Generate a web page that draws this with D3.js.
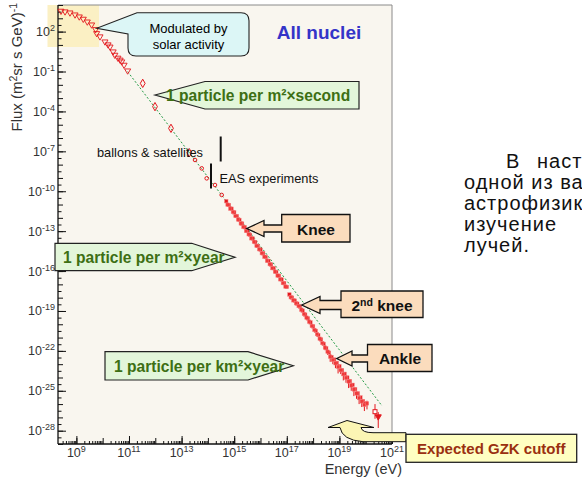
<!DOCTYPE html>
<html>
<head>
<meta charset="utf-8">
<style>
    body { margin: 0; background: #fff; }
    svg { display: block; font-family: Arial, "Liberation Sans", sans-serif; }
</style>
</head>
<body>
<svg id="chart" width="582" height="479"></svg>
<script src="https://cdn.jsdelivr.net/npm/d3@7"></script>
<script>
    // direct measurements, low energy (open triangles)
    let directE = [2.6e8, 3.7e8, 5.7e8, 8.9e8, 1.29e9, 1.83e9, 2.6e9, 3.8e9, 5.4e9, 5.9e9, 7.9e9, 1.22e10,
        1.6e10, 1.9e10, 2.5e10, 2.9e10, 3.8e10, 4.6e10, 5.3e10, 6.5e10, 8.9e10]
    let directF = [3550, 3160, 2630, 1860, 1320, 890, 550, 330, 148, 74, 42, 17.4,
        10.5, 7.2, 3.1, 1.74, 1.05, 0.75, 0.55, 0.31, 0.115]

    // balloons (open diamonds) and satellites (small open circles)
    let balloonE = [3.33e11, 9.75e11, 3.95e12, 1.96e13]
    let balloonF = [0.0129, 2.29e-4, 5.37e-6, 7.94e-8]
    let satE = [3.24e13, 5.82e13, 9.0e13, 1.86e14, 3.35e14]
    let satF = [2.24e-8, 5.25e-9, 9.33e-10, 2.95e-10, 5.25e-11]

    // air shower arrays around the knee
    let kneeE = [5.0e14, 6.3e14, 7.9e14, 1.0e15, 1.26e15, 1.58e15, 2.0e15, 2.51e15, 3.16e15, 3.98e15, 5.01e15, 6.31e15,
        7.94e15, 1.0e16, 1.26e16, 1.58e16, 2.0e16, 2.51e16, 3.16e16, 3.98e16, 5.01e16, 6.31e16, 7.94e16, 1.0e17]
    let kneeF = [1.78e-11, 9.33e-12, 4.90e-12, 2.57e-12, 1.35e-12, 7.08e-13, 3.72e-13, 1.95e-13, 1.02e-13, 5.37e-14, 2.82e-14, 1.48e-14,
        7.76e-15, 4.07e-15, 2.14e-15, 1.12e-15, 5.89e-16, 3.09e-16, 1.62e-16, 8.51e-17, 4.47e-17, 2.34e-17, 1.23e-17, 6.46e-18]
    let knee2E = [5.6e14, 7.1e14, 8.9e14, 1.12e15, 1.41e15, 1.78e15, 2.24e15, 2.82e15, 3.55e15, 4.47e15, 5.62e15, 7.08e15,
        8.91e15, 1.12e16, 1.41e16, 1.78e16, 2.24e16, 2.82e16, 3.55e16, 4.47e16, 5.62e16, 7.08e16, 8.91e16]
    let knee2F = [9.8e-12, 5.0e-12, 2.8e-12, 1.38e-12, 7.6e-13, 3.8e-13, 2.1e-13, 1.05e-13, 5.8e-14, 2.9e-14, 1.6e-14, 7.9e-15,
        4.4e-15, 2.2e-15, 1.2e-15, 6.0e-16, 3.3e-16, 1.66e-16, 9.1e-17, 4.6e-17, 2.4e-17, 1.25e-17, 6.8e-18]

    // highest energies
    let highE = [1.26e17, 1.58e17, 2.0e17, 2.51e17, 3.16e17, 3.98e17, 5.01e17, 6.31e17, 7.94e17, 1.0e18, 1.26e18, 1.58e18,
        2.0e18, 2.51e18, 3.16e18, 3.98e18, 5.01e18, 6.31e18, 7.94e18, 1.0e19, 1.26e19, 1.58e19, 2.0e19, 2.51e19,
        3.16e19, 3.98e19, 5.01e19, 6.31e19, 7.94e19, 1.0e20]
    let highF = [1.74e-18, 1.02e-18, 6.03e-19, 3.55e-19, 2.14e-19, 1.07e-19, 5.37e-20, 2.75e-20, 1.38e-20, 6.92e-21, 3.24e-21, 1.55e-21,
        7.24e-22, 3.39e-22, 1.58e-22, 7.41e-23, 3.47e-23, 2.24e-23, 1.26e-23, 7.08e-24, 3.55e-24, 1.91e-24, 1.0e-24, 5.37e-25,
        2.82e-25, 1.32e-25, 6.31e-26, 3.16e-26, 1.66e-26, 1.12e-26]
    let high2E = [1.41e17, 1.78e17, 2.24e17, 2.82e17, 3.55e17, 4.47e17, 5.62e17, 7.08e17, 8.91e17, 1.12e18, 1.41e18, 1.78e18,
        2.24e18, 2.82e18, 3.55e18, 4.47e18, 5.62e18, 7.08e18, 8.91e18, 1.12e19, 1.41e19, 1.78e19, 2.24e19, 2.82e19,
        3.55e19, 4.47e19, 5.62e19, 7.08e19, 8.91e19, 1.12e20]
    let high2F = [1.07e-18, 6.31e-19, 3.80e-19, 2.34e-19, 1.26e-19, 6.03e-20, 3.16e-20, 1.58e-20, 7.59e-21, 3.80e-21, 1.82e-21, 8.32e-22,
        3.89e-22, 1.78e-22, 8.71e-23, 3.72e-23, 2.09e-23, 1.17e-23, 6.31e-24, 3.55e-24, 1.78e-24, 9.55e-25, 5.01e-25, 2.51e-25,
        1.26e-25, 6.31e-26, 2.82e-26, 1.58e-26, 8.91e-27, 1.12e-26]
    let high2Lo = [null, null, null, null, null, null, null, null, null, null, null, null,
        null, 1.2e-22, 5.0e-23, 1.5e-23, 1.0e-23, 5.0e-24, 2.0e-24, 1.8e-24, 6.0e-25, 4.0e-25, 1.6e-25, 1.0e-25,
        4.0e-26, 2.5e-26, 1.0e-26, 6.0e-27, 3.0e-27, 4.0e-27]

    // last two points with error bars
    let lastE = [2.26e20, 3.0e20]
    let lastF = [2.69e-27, 1.15e-27]
    let lastHi = [1.0e-26, 2.5e-27]
    let lastLo = [7.9e-28, 1.6e-28]

    // reference slope (green dotted)
    let refE = [8.9e10, 4.2e20]
    let refF = [0.098, 7.2e-27]

    let xLabelExp = [9, 11, 13, 15, 17, 19, 21]
    let yLabelExp = [2, -1, -4, -7, -10, -13, -16, -19, -22, -25, -28]

    let textLines = [["В", "настоящее"], ["одной из важнейших"], ["астрофизики"], ["изучение"], ["лучей."]]

    let svg = d3.select("#chart")
    let pLeft = 58, pRight = 392, pTop = 5, pBottom = 444
    let red = "#e3161c"

    let x = d3.scaleLog().domain([2e8, 1e21]).range([pLeft, pRight])
    let y = d3.scaleLog().domain([1e-29, 1e4]).range([pBottom, pTop])

    // plot background and highlight
    svg.append("rect").attr("x", pLeft).attr("y", pTop).attr("width", pRight - pLeft).attr("height", pBottom - pTop)
        .attr("fill", "#f9f6ef")
    svg.append("rect").attr("x", 47.5).attr("y", 5).attr("width", 51.5).attr("height", 42)
        .attr("fill", "#fbf0c4")

    // frame
    svg.append("path").attr("d", `M${pLeft},${pTop}H${pRight}V${pBottom}`)
        .attr("fill", "none").attr("stroke", "#8a8a8a").attr("stroke-width", 1)

    // ticks
    let xMinor = [], xDecade = []
    for (let e = 8; e <= 21; e++) {
        for (let m = 1; m < 10; m++) {
            let v = m * Math.pow(10, e)
            if (v <= 2e8 || v > 1e21) continue
            if (m > 1) xMinor.push(v)
            else xDecade.push(v)
        }
    }
    let yHalf = [], yDecade = []
    for (let k = -58; k <= 8; k++) {
        let v = Math.pow(10, k / 2)
        if (k % 2) yHalf.push(v)
        else yDecade.push(v)
    }

    function xTicks(vals, len) {
        svg.append("g").attr("transform", `translate(0,${pBottom})`)
            .call(d3.axisBottom(x).tickValues(vals).tickSizeInner(-len).tickSizeOuter(0).tickFormat(""))
            .call(g => g.select(".domain").remove())
            .selectAll("line").attr("stroke", "#111")
    }
    function yTicks(vals, len) {
        svg.append("g").attr("transform", `translate(${pLeft},0)`)
            .call(d3.axisLeft(y).tickValues(vals).tickSizeInner(-len).tickSizeOuter(0).tickFormat(""))
            .call(g => g.select(".domain").remove())
            .selectAll("line").attr("stroke", "#111")
    }
    xTicks(xMinor, 3)
    xTicks(xDecade, 6)
    xTicks(xLabelExp.map(e => Math.pow(10, e)), 8)
    yTicks(yHalf, 3.5)
    yTicks(yDecade, 5)
    yTicks(yLabelExp.map(e => Math.pow(10, e)), 8)

    svg.append("line").attr("x1", pLeft).attr("x2", pRight).attr("y1", pBottom).attr("y2", pBottom)
        .attr("stroke", "#111").attr("stroke-width", 1.3)
    svg.append("line").attr("x1", pLeft).attr("x2", pLeft).attr("y1", pTop).attr("y2", pBottom)
        .attr("stroke", "#111").attr("stroke-width", 1.3)

    // tick labels
    let xl = svg.append("g").attr("fill", "#333").attr("font-size", 12.5)
    xLabelExp.forEach(e => {
        let t = xl.append("text").attr("x", x(Math.pow(10, e))).attr("y", 457).attr("text-anchor", "middle")
        t.append("tspan").text("10")
        t.append("tspan").attr("dy", -5).attr("font-size", 9).text(e)
    })
    let yl = svg.append("g").attr("fill", "#333").attr("font-size", 12.5)
    yLabelExp.forEach(e => {
        let t = yl.append("text").attr("x", 55).attr("y", y(Math.pow(10, e)) + 4.5).attr("text-anchor", "end")
        t.append("tspan").text("10")
        t.append("tspan").attr("dy", -5).attr("font-size", 9).text(e)
    })

    // axis titles
    svg.append("text").attr("x", 402).attr("y", 474).attr("text-anchor", "end")
        .attr("font-size", 14.5).attr("fill", "#333").text("Energy (eV)")
    let yt = svg.append("text").attr("transform", "translate(22,3) rotate(-90)")
        .attr("text-anchor", "end").attr("font-size", 15).attr("fill", "#333")
    yt.append("tspan").text("Flux (m")
    yt.append("tspan").attr("dy", -5).attr("font-size", 10.5).text("2")
    yt.append("tspan").attr("dy", 5).text("sr s GeV)")
    yt.append("tspan").attr("dy", -5).attr("font-size", 10.5).text("-1")

    // reference line
    let refData = refE.map((e, i) => [e, refF[i]])
    svg.append("path").datum(refData)
        .attr("d", d3.line().x(d => x(d[0])).y(d => y(d[1])))
        .attr("fill", "none").attr("stroke", "#239a45").attr("stroke-width", 1).attr("stroke-dasharray", "2,2")

    function zip(es, fs) { return es.map((e, i) => ({ e: e, f: fs[i], i: i })) }

    // error bars
    let errs = zip(high2E, high2F).filter(d => high2Lo[d.i] != null)
    svg.append("g").selectAll("line").data(errs).join("line")
        .attr("x1", d => x(d.e)).attr("x2", d => x(d.e))
        .attr("y1", d => y(d.f * 1.6)).attr("y2", d => y(high2Lo[d.i]))
        .attr("stroke", red).attr("stroke-width", 1)
    svg.append("g").selectAll("line").data(zip(lastE, lastF)).join("line")
        .attr("x1", d => x(d.e)).attr("x2", d => x(d.e))
        .attr("y1", d => y(lastHi[d.i])).attr("y2", d => y(lastLo[d.i]))
        .attr("stroke", red).attr("stroke-width", 1)

    // markers
    let tri = d3.symbol(d3.symbolTriangle, 16)
    svg.append("g").selectAll("path").data(zip(directE, directF)).join("path")
        .attr("d", tri).attr("transform", d => `translate(${x(d.e)},${y(d.f)}) rotate(180)`)
        .attr("fill", "none").attr("stroke", red).attr("stroke-width", 0.9)
    svg.append("g").selectAll("path").data(zip(balloonE, balloonF)).join("path")
        .attr("d", d3.symbol(d3.symbolDiamond, 20)).attr("transform", d => `translate(${x(d.e)},${y(d.f)})`)
        .attr("fill", "none").attr("stroke", red).attr("stroke-width", 1)
    svg.append("g").selectAll("circle").data(zip(satE, satF)).join("circle")
        .attr("cx", d => x(d.e)).attr("cy", d => y(d.f)).attr("r", 1.8)
        .attr("fill", "none").attr("stroke", red).attr("stroke-width", 1)

    let dense = [zip(kneeE, kneeF), zip(knee2E, knee2F), zip(highE, highF), zip(high2E, high2F)]
    dense.forEach((set, k) => {
        svg.append("g").selectAll("rect").data(set).join("rect")
            .attr("x", d => x(d.e) - 1.7).attr("y", d => y(d.f) - 1.7)
            .attr("width", 3.4).attr("height", 3.4)
            .attr("fill", k % 2 ? "#f03a3a" : red).attr("stroke", "#f47a7a").attr("stroke-width", 0.5)
    })
    svg.append("rect").attr("x", x(lastE[0]) - 2).attr("y", y(lastF[0]) - 2).attr("width", 4).attr("height", 4)
        .attr("fill", "#fff").attr("stroke", red)
    svg.append("path").attr("d", tri).attr("transform", `translate(${x(lastE[1])},${y(lastF[1])}) rotate(180)`)
        .attr("fill", red).attr("stroke", red)

    // annotations
    function arrowBox(b) {
        return `M${b.tx},${b.ty}L${b.hx},${b.ty - b.hh}L${b.hx},${b.ty - b.sh}L${b.x0},${b.ty - b.sh}L${b.x0},${b.y0}` +
            `L${b.x1},${b.y0}L${b.x1},${b.y1}L${b.x0},${b.y1}L${b.x0},${b.ty + b.sh}L${b.hx},${b.ty + b.sh}L${b.hx},${b.ty + b.hh}Z`
    }
    let peach = "#fbdcbd"
    let boxes = [
        { x0: 281.7, y0: 214.5, x1: 350, y1: 242, tx: 246.7, ty: 228.5, hx: 264, hh: 8, sh: 3.5 },
        { x0: 341, y0: 291, x1: 423, y1: 317.5, tx: 301.7, ty: 305, hx: 320, hh: 8.5, sh: 4.5 },
        { x0: 367.5, y0: 344.5, x1: 432, y1: 371.5, tx: 336.7, ty: 358.5, hx: 352, hh: 7.5, sh: 3.5 }
    ]
    boxes.forEach(b => svg.append("path").attr("d", arrowBox(b))
        .attr("fill", peach).attr("stroke", "#111").attr("stroke-width", 1.3))
    let bold = svg.append("g").attr("font-weight", "bold").attr("font-size", 15.5).attr("fill", "#111")
    bold.append("text").attr("x", 316).attr("y", 234.5).attr("text-anchor", "middle").text("Knee")
    let k2 = bold.append("text").attr("x", 382).attr("y", 310.5).attr("text-anchor", "middle")
    k2.append("tspan").text("2")
    k2.append("tspan").attr("dy", -5).attr("font-size", 10.5).text("nd")
    k2.append("tspan").attr("dy", 5).text(" knee")
    bold.append("text").attr("x", 400).attr("y", 363.5).attr("text-anchor", "middle").text("Ankle")

    let green = [
        { pts: [[155, 95], [205, 81.5], [359, 81.5], [359, 109], [205, 109]], tx: 166, ty: 101, label: "1 particle per m²×second" },
        { pts: [[55, 243.3], [191.7, 243.3], [235, 257.3], [191.7, 270.7], [55, 270.7]], tx: 63, ty: 262.8, label: "1 particle per m²×year" },
        { pts: [[105, 351.7], [248, 351.7], [293.3, 365.8], [248, 380], [105, 380]], tx: 114, ty: 371.5, label: "1 particle per km²×year" }
    ]
    green.forEach(g => {
        svg.append("path").attr("d", "M" + g.pts.join("L") + "Z")
            .attr("fill", "#e3f6da").attr("stroke", "#222").attr("stroke-width", 1.2)
        svg.append("text").attr("x", g.tx).attr("y", g.ty).attr("font-weight", "bold").attr("font-size", 15.6)
            .attr("fill", "#3d6f14").text(g.label)
    })

    // solar modulation bubble
    svg.append("path")
        .attr("d", "M137,12.7L241,12.7Q249,12.7 249,20.7L249,48Q249,56 241,56L136,56Q128,56 128,48L128,34L96.7,28.3Z")
        .attr("fill", "#dcf6f6").attr("stroke", "#222").attr("stroke-width", 1.1)
    svg.append("text").attr("x", 188.5).attr("y", 33).attr("text-anchor", "middle").attr("font-size", 13).text("Modulated by")
    svg.append("text").attr("x", 188.5).attr("y", 48.5).attr("text-anchor", "middle").attr("font-size", 13).text("solar activity")

    svg.append("text").attr("x", 319).attr("y", 38.5).attr("text-anchor", "middle").attr("font-weight", "bold")
        .attr("font-size", 19).attr("fill", "#3434c8").text("All nuclei")

    // experiment ranges
    svg.append("text").attr("x", 97).attr("y", 156.5).attr("font-size", 12.8).attr("fill", "#111").text("ballons & satellites")
    svg.append("text").attr("x", 219.5).attr("y", 183).attr("font-size", 12.8).attr("fill", "#111").text("EAS experiments")
    svg.append("line").attr("x1", 220.7).attr("x2", 220.7).attr("y1", 136.5).attr("y2", 161.5).attr("stroke", "#111").attr("stroke-width", 2)
    svg.append("line").attr("x1", 211).attr("x2", 211).attr("y1", 163.5).attr("y2", 188.5).attr("stroke", "#111").attr("stroke-width", 2)

    // GZK
    svg.append("path")
        .attr("d", "M328,427.5L347,420.5L374,427.5L361,427.5Q362,432.7 373,432.7L406,432.7L406,441.7L363,441.7Q342,440 340,427.5Z")
        .attr("fill", "#fbf5b4").attr("stroke", "#111").attr("stroke-width", 1)
    svg.append("rect").attr("x", 406).attr("y", 434.3).attr("width", 170.7).attr("height", 28)
        .attr("fill", "#ffffc2").attr("stroke", "#222").attr("stroke-width", 1.3)
    svg.append("text").attr("x", 491.3).attr("y", 453.8).attr("text-anchor", "middle").attr("font-weight", "bold")
        .attr("font-size", 15).attr("fill", "#9a3010").text("Expected GZK cutoff")

    // slide text on the right (runs off the slide edge, as in the original)
    let para = svg.append("g").attr("font-size", 20).attr("letter-spacing", 1).attr("fill", "#111")
    textLines.forEach((words, i) => {
        let yy = 168 + i * 21
        if (words.length == 2) {
            para.append("text").attr("x", 506).attr("y", yy).text(words[0])
            para.append("text").attr("x", 537).attr("y", yy).text(words[1])
        } else {
            para.append("text").attr("x", 464).attr("y", yy).text(words[0])
        }
    })
</script>
</body>
</html>
